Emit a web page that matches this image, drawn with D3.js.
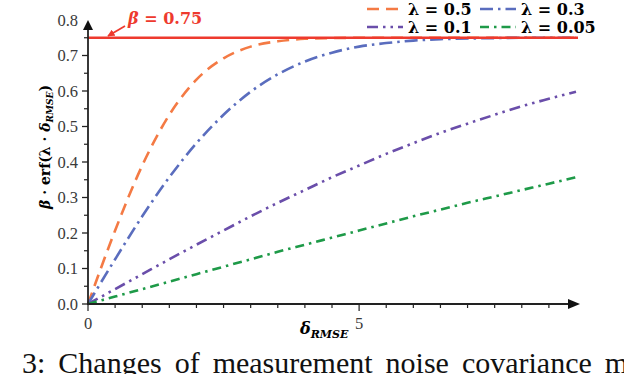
<!DOCTYPE html>
<html>
<head>
<meta charset="utf-8">
<script src="https://cdn.jsdelivr.net/npm/d3@7"></script>
<style>
  html, body { margin: 0; padding: 0; background: #fff; }
  svg { display: block; }
  .tick-label { font-family: "Liberation Serif", "DejaVu Serif", serif; font-size: 16.5px; fill: #3a3a3a; }
  .bold { font-family: "DejaVu Serif", "Liberation Serif", serif; font-weight: bold; }
</style>
</head>
<body>
<div id="chart"></div>
<script>
const xs = [0, 0.5, 1, 1.5, 2, 2.5, 3, 3.5, 4, 4.5, 5, 5.5, 6, 6.5, 7, 7.5, 8, 8.5, 9];
const lam05  = [0, 0.207, 0.390, 0.533, 0.632, 0.692, 0.725, 0.740, 0.747, 0.749, 0.750, 0.750, 0.750, 0.750, 0.750, 0.750, 0.750, 0.750, 0.750];
const lam03  = [0, 0.126, 0.247, 0.357, 0.453, 0.533, 0.598, 0.647, 0.683, 0.708, 0.725, 0.735, 0.742, 0.746, 0.748, 0.749, 0.750, 0.750, 0.750];
const lam01  = [0, 0.042, 0.084, 0.126, 0.167, 0.207, 0.247, 0.285, 0.321, 0.357, 0.390, 0.423, 0.453, 0.482, 0.508, 0.533, 0.557, 0.578, 0.598];
const lam005 = [0, 0.021, 0.042, 0.063, 0.084, 0.105, 0.126, 0.147, 0.167, 0.187, 0.207, 0.227, 0.247, 0.266, 0.285, 0.303, 0.321, 0.339, 0.357];
const beta = 0.75;

const yTicks = [0, 0.1, 0.2, 0.3, 0.4, 0.5, 0.6, 0.7, 0.8];
const xTickLabels = [0, 5];

const series = [
  { name: "0.5",  values: lam05,  color: "#f47a44", dash: "12,7" },
  { name: "0.3",  values: lam03,  color: "#5a6dbe", dash: "13,5,2.5,5" },
  { name: "0.1",  values: lam01,  color: "#6a4eaa", dash: "11,5,2.5,5,2.5,5" },
  { name: "0.05", values: lam005, color: "#1e9a48", dash: "9,5,2.5,5" }
];

const width = 624, height = 374;
const x = d3.scaleLinear().domain([0, 9]).range([88, 576]);
const y = d3.scaleLinear().domain([0, 0.8]).range([304, 20]);

const svg = d3.select("#chart").append("svg")
  .attr("width", width)
  .attr("height", height);

const defs = svg.append("defs");
defs.append("marker")
  .attr("id", "redArrow")
  .attr("viewBox", "0 0 10 10")
  .attr("refX", 9).attr("refY", 5)
  .attr("markerWidth", 4).attr("markerHeight", 4)
  .attr("orient", "auto")
  .append("path")
  .attr("d", "M0,0 L10,5 L0,10 z")
  .attr("fill", "#ee3a2e");

// curves
const line = d3.line()
  .x((d, i) => x(xs[i]))
  .y(d => y(d))
  .curve(d3.curveMonotoneX);

svg.selectAll(".curve")
  .data(series)
  .join("path")
  .attr("class", "curve")
  .attr("d", d => line(d.values))
  .attr("fill", "none")
  .attr("stroke", d => d.color)
  .attr("stroke-width", 2.6)
  .attr("stroke-dasharray", d => d.dash);

// beta line
svg.append("line")
  .attr("x1", x(0)).attr("x2", x(9) + 2)
  .attr("y1", y(beta)).attr("y2", y(beta))
  .attr("stroke", "#ee3a2e")
  .attr("stroke-width", 2.6);

svg.append("line")
  .attr("x1", 125).attr("y1", 26)
  .attr("x2", 108).attr("y2", 36)
  .attr("stroke", "#ee3a2e")
  .attr("stroke-width", 1.8)
  .attr("marker-end", "url(#redArrow)");

svg.append("text")
  .attr("x", 128).attr("y", 24)
  .attr("fill", "#ee3a2e")
  .attr("class", "bold")
  .attr("font-size", 16)
  .html('<tspan font-style="italic">β</tspan> = 0.75');

// y axis
const yAxis = svg.append("g");
yAxis.append("line")
  .attr("x1", x(0)).attr("x2", x(0))
  .attr("y1", y(0) + 1).attr("y2", y(0.8) + 8)
  .attr("stroke", "#222").attr("stroke-width", 1.8);
yAxis.append("path")
  .attr("d", `M${x(0) - 5},${y(0.8) + 10} L${x(0)},${y(0.8)} L${x(0) + 5},${y(0.8) + 10} z`)
  .attr("fill", "#111");

const yMinor = d3.range(0.05, 0.8, 0.1);
yAxis.selectAll(".ytick")
  .data(yTicks.slice(0, -1))
  .join("line")
  .attr("x1", x(0) - 6).attr("x2", x(0))
  .attr("y1", d => y(d)).attr("y2", d => y(d))
  .attr("stroke", "#222").attr("stroke-width", 1.3);
yAxis.selectAll(".yminor")
  .data(yMinor)
  .join("line")
  .attr("x1", x(0) - 4).attr("x2", x(0))
  .attr("y1", d => y(d)).attr("y2", d => y(d))
  .attr("stroke", "#222").attr("stroke-width", 1.2);
yAxis.selectAll(".ylabel")
  .data(yTicks)
  .join("text")
  .attr("class", "tick-label")
  .attr("x", x(0) - 10)
  .attr("y", d => y(d))
  .attr("dy", "0.35em")
  .attr("text-anchor", "end")
  .text(d => d.toFixed(1));

// x axis
const xAxis = svg.append("g");
xAxis.append("line")
  .attr("x1", x(0) - 1).attr("x2", 570)
  .attr("y1", y(0)).attr("y2", y(0))
  .attr("stroke", "#222").attr("stroke-width", 1.8);
xAxis.append("path")
  .attr("d", `M568,${y(0) - 5} L580,${y(0)} L568,${y(0) + 5} z`)
  .attr("fill", "#111");
const xMinor = d3.range(0, 8.6, 0.5);
xAxis.selectAll(".xtick")
  .data(xMinor)
  .join("line")
  .attr("x1", d => x(d)).attr("x2", d => x(d))
  .attr("y1", y(0))
  .attr("y2", d => y(0) + (xTickLabels.includes(d) ? 7 : 4))
  .attr("stroke", "#222").attr("stroke-width", 1.2);
xAxis.selectAll(".xlabel")
  .data(xTickLabels)
  .join("text")
  .attr("class", "tick-label")
  .attr("x", d => x(d))
  .attr("y", 329)
  .attr("text-anchor", "middle")
  .text(d => d);

// axis titles
svg.append("text")
  .attr("class", "bold")
  .attr("x", 300).attr("y", 334)
  .attr("font-size", 16)
  .html('<tspan font-style="italic">δ</tspan><tspan font-style="italic" font-size="11" dy="4">RMSE</tspan>');

svg.append("text")
  .attr("class", "bold")
  .attr("transform", "translate(50,147) rotate(-90)")
  .attr("text-anchor", "middle")
  .attr("font-size", 14)
  .html('<tspan font-style="italic">β</tspan> · erf(λ · <tspan font-style="italic">δ</tspan><tspan font-style="italic" font-size="9" dy="3">RMSE</tspan><tspan dy="-3">)</tspan>');

// legend
const legendPos = [[367, 9], [480, 9], [367, 27], [480, 27]];
const legend = svg.selectAll(".legend")
  .data(series)
  .join("g")
  .attr("transform", (d, i) => `translate(${legendPos[i][0]},${legendPos[i][1]})`);
legend.append("line")
  .attr("x1", 0).attr("x2", 36)
  .attr("stroke", d => d.color)
  .attr("stroke-width", 2.6)
  .attr("stroke-dasharray", d => d.dash);
legend.append("text")
  .attr("class", "bold")
  .attr("x", 41).attr("dy", "0.35em")
  .attr("font-size", 16)
  .text(d => "λ = " + d.name);

// caption fragment below the figure (cut by the frame, as in the source)
svg.append("text")
  .attr("x", 22).attr("y", 373)
  .attr("font-family", "Liberation Serif, serif")
  .attr("font-size", 30)
  .attr("word-spacing", 5.5)
  .attr("fill", "#111")
  .text("3: Changes of measurement noise covariance ma");
</script>
</body>
</html>
